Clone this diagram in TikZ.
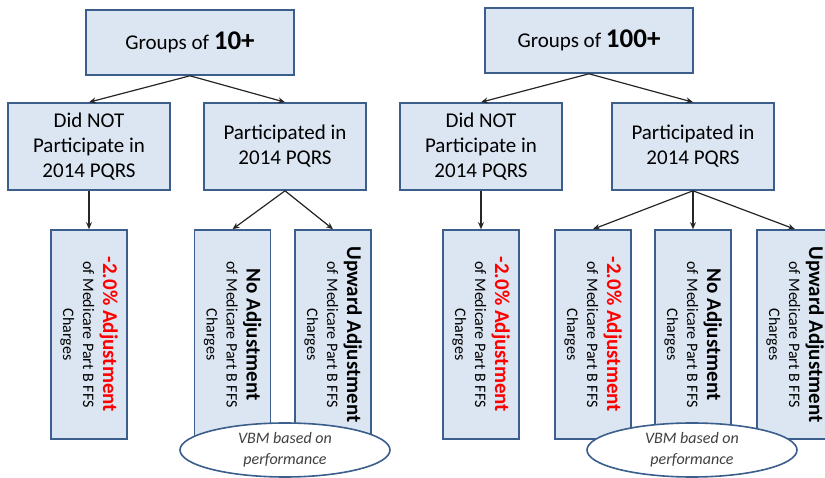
\documentclass[tikz,border=0pt]{standalone}
\usepackage{fontspec}
\setmainfont{Carlito}
\usetikzlibrary{arrows.meta,shapes.geometric}
\definecolor{boxfill}{HTML}{DCE6F2}
\definecolor{boxline}{HTML}{3B5E8C}
\definecolor{arrowc}{HTML}{262626}
\definecolor{redtxt}{HTML}{FF0000}
\definecolor{elltxt}{HTML}{404040}
\tikzset{
  hbox/.style={draw=boxline, line width=1.6pt, fill=boxfill, rectangle, inner sep=0pt, align=center,
    font=\fontsize{21}{25}\selectfont, text=black},
  vbox/.style={draw=boxline, line width=1.6pt, fill=boxfill, rectangle, inner sep=0pt,
    minimum width=76pt, minimum height=209pt},
  vtext/.style={rotate=-90, align=center, inner sep=0pt, font=\fontsize{16}{20}\selectfont, text=black},
  ell/.style={draw=boxline, line width=1.6pt, fill=white, ellipse, inner sep=0pt,
    minimum width=210pt, minimum height=54pt, align=center,
    font=\fontsize{16}{21}\selectfont\itshape, text=elltxt},
  arr/.style={draw=arrowc, line width=1.2pt, -{Stealth[length=7pt,width=6pt]}},
}
\newcommand{\bigline}[1]{{\fontsize{21}{21}\selectfont\bfseries #1}}
\begin{document}
\begin{tikzpicture}[x=1pt,y=-1pt]
\useasboundingbox (0,0) rectangle (825,478);
% left tree
\node[hbox, minimum width=208pt, minimum height=65pt] (g10) at (190,42.5) {Groups of {\fontsize{27}{27}\selectfont\bfseries 10+}};
\node[hbox, minimum width=162pt, minimum height=87pt] (dn1) at (89,146.5) {Did NOT\\Participate in\\2014 PQRS};
\node[hbox, minimum width=162pt, minimum height=87pt] (p1) at (285,146.5) {Participated in\\2014 PQRS};
\node[vbox] (v1) at (89,334.5) {};
\node[vtext] (v1t) at (v1.center) {\bigline{\textcolor{redtxt}{-2.0\% Adjustment}}\\of Medicare Part B FFS\\Charges};
\node[vbox] (v2) at (232.5,334.5) {};
\node[vtext] (v2t) at (v2.center) {\bigline{No Adjustment}\\of Medicare Part B FFS\\Charges};
\node[vbox] (v3) at (333,334.5) {};
\node[vtext] (v3t) at (v3.center) {\bigline{Upward Adjustment}\\of Medicare Part B FFS\\Charges};
\node[ell] (e1) at (285,450) {VBM based on\\performance};
\draw[arr] (g10.south) -- (dn1.north);
\draw[arr] (g10.south) -- (p1.north);
\draw[arr] (dn1.south) -- (v1.north);
\draw[arr] (p1.south) -- (v2.north);
\draw[arr] (p1.south) -- (v3.north);
% right tree
\node[hbox, minimum width=208pt, minimum height=65pt] (g100) at (589,40.5) {Groups of {\fontsize{27}{27}\selectfont\bfseries 100+}};
\node[hbox, minimum width=162pt, minimum height=87pt] (dn2) at (481,146.5) {Did NOT\\Participate in\\2014 PQRS};
\node[hbox, minimum width=162pt, minimum height=87pt] (p2) at (693,146.5) {Participated in\\2014 PQRS};
\node[vbox] (v4) at (481,334.5) {};
\node[vtext] (v4t) at (v4.center) {\bigline{\textcolor{redtxt}{-2.0\% Adjustment}}\\of Medicare Part B FFS\\Charges};
\node[vbox] (v5) at (593,334.5) {};
\node[vtext] (v5t) at (v5.center) {\bigline{\textcolor{redtxt}{-2.0\% Adjustment}}\\of Medicare Part B FFS\\Charges};
\node[vbox] (v6) at (693,334.5) {};
\node[vtext] (v6t) at (v6.center) {\bigline{No Adjustment}\\of Medicare Part B FFS\\Charges};
\node[vbox] (v7) at (795,334.5) {};
\node[vtext] (v7t) at (v7.center) {\bigline{Upward Adjustment}\\of Medicare Part B FFS\\Charges};
\node[ell] (e2) at (692,450) {VBM based on\\performance};
\draw[arr] (g100.south) -- (dn2.north);
\draw[arr] (g100.south) -- (p2.north);
\draw[arr] (dn2.south) -- (v4.north);
\draw[arr] (p2.south) -- (v5.north);
\draw[arr] (p2.south) -- (v6.north);
\draw[arr] (p2.south) -- (v7.north);
\end{tikzpicture}
\end{document}
